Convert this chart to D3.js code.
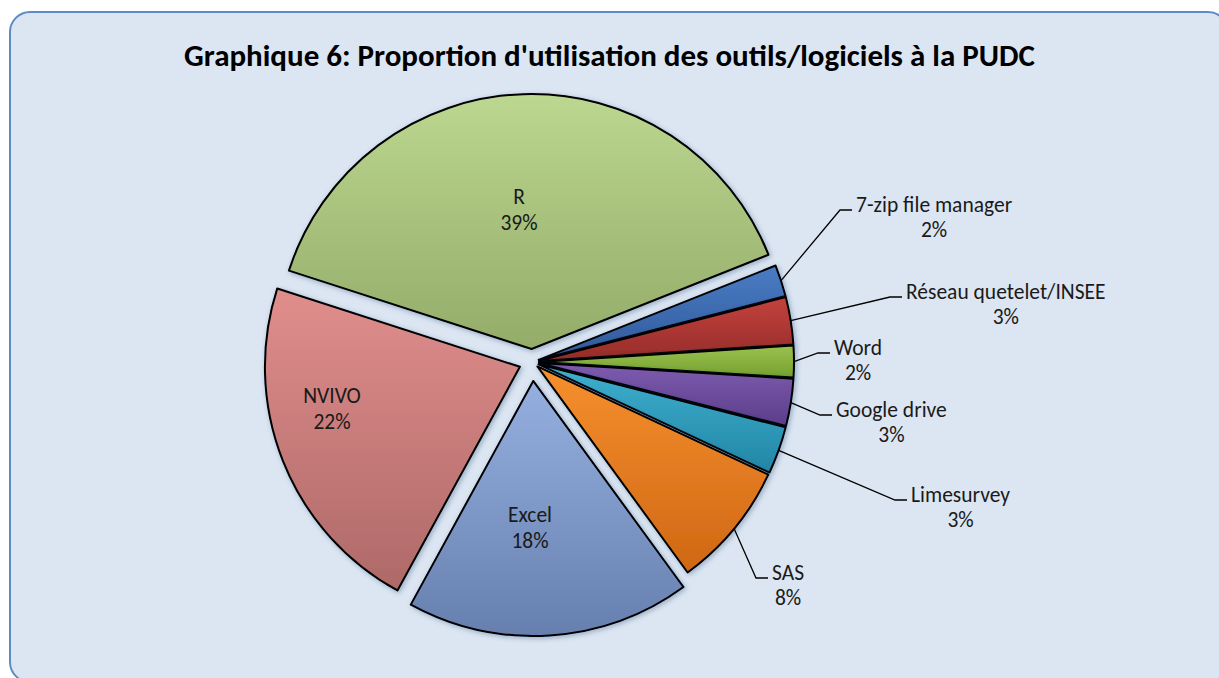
<!DOCTYPE html>
<html>
<head>
<meta charset="utf-8">
<script src="https://cdn.jsdelivr.net/npm/d3@7"></script>
<style>
  body { margin: 0; background: #fff; }
  text { font-family: Carlito, Calibri, Lato, sans-serif; fill: #1a1a1a; }
</style>
</head>
<body>
<div id="chart"></div>
<script>
// Chart data
var title = "Graphique 6: Proportion d'utilisation des outils/logiciels à la PUDC";
var categories = ["7-zip file manager", "Réseau quetelet/INSEE", "Word", "Google drive",
                  "Limesurvey", "SAS", "Excel", "NVIVO", "R"];
var values = [2, 3, 2, 3, 3, 8, 18, 22, 39];

// Layout
var width = 1219, height = 678;
var cx = 532, cy = 362, radius = 255;
var startAngle = 68.3 * Math.PI / 180;

// Excel style fills (top / bottom of the gradient)
var colorsTop    = ["#4a7cc4", "#c4423e", "#9bc24f", "#7e5cb0", "#3fb0cf", "#f6902e", "#95b0e0", "#e08e8c", "#bcd790"];
var colorsBottom = ["#30599a", "#952c29", "#75a02f", "#5b3d8a", "#2286a6", "#cf6714", "#667fae", "#ae6968", "#93ac69"];
var explode = [7, 7, 7, 7, 7, 7, 19, 13, 13];

// label placement, relative to the pie centre
// outside labels: elbow of the leader line; inside labels: centre of the text
var outside = [true, true, true, true, true, true, false, false, false];
var labelPos = [[308, -152], [358, -65], [286, -9], [288, 53], [363, 138], [224, 216],
                [-2, 166], [-200, 47], [-13, -152]];

var svg = d3.select("#chart")
    .append("svg")
    .attr("width", width)
    .attr("height", height);

var defs = svg.append("defs");

// soft shadow like the Excel chart style
var shadow = defs.append("filter")
    .attr("id", "shadow")
    .attr("x", "-20%").attr("y", "-20%")
    .attr("width", "140%").attr("height", "140%");
shadow.append("feDropShadow")
    .attr("dx", 1.5).attr("dy", 1.5)
    .attr("stdDeviation", 2.5)
    .attr("flood-color", "#1f3c66")
    .attr("flood-opacity", 0.35);

colorsTop.forEach(function(c, i) {
    var g = defs.append("linearGradient")
        .attr("id", "grad" + i)
        .attr("x1", 0).attr("y1", 0)
        .attr("x2", 0).attr("y2", 1);
    g.append("stop").attr("offset", "0%").attr("stop-color", c);
    g.append("stop").attr("offset", "100%").attr("stop-color", colorsBottom[i]);
});

// Chart area background
svg.append("rect")
    .attr("x", 10).attr("y", 12)
    .attr("width", 1218).attr("height", 670)
    .attr("rx", 20).attr("ry", 20)
    .attr("fill", "#dce6f2")
    .attr("stroke", "#5f8bc4")
    .attr("stroke-width", 2);

// Title
svg.append("text")
    .attr("x", 609.5).attr("y", 66)
    .attr("text-anchor", "middle")
    .style("font-size", "31px")
    .style("font-weight", "bold")
    .style("fill", "#000")
    .text(title);

var total = d3.sum(values);

var pie = d3.pie()
    .sort(null)
    .value(function(d) { return d; })
    .startAngle(startAngle)
    .endAngle(startAngle + 2 * Math.PI);

var arc = d3.arc()
    .innerRadius(0)
    .outerRadius(radius);

var arcs = pie(values);

function offset(d, i, r) {
    var a = (d.startAngle + d.endAngle) / 2;
    return [Math.sin(a) * r, -Math.cos(a) * r];
}

var pieG = svg.append("g")
    .attr("transform", "translate(" + cx + "," + cy + ")");

// Draw slices
pieG.selectAll("path.slice")
    .data(arcs)
    .enter()
    .append("path")
    .attr("class", "slice")
    .attr("transform", function(d, i) {
        var o = offset(d, i, explode[i]);
        return "translate(" + o[0] + "," + o[1] + ")";
    })
    .attr("d", arc)
    .attr("fill", function(d, i) { return "url(#grad" + i + ")"; })
    .attr("stroke", "#000")
    .attr("stroke-width", 2)
    .attr("stroke-linejoin", "round")
    .attr("filter", "url(#shadow)");

// Labels
var fontSize = 21.5, lineGap = 25.5;

arcs.forEach(function(d, i) {
    var pct = Math.round(d.value / total * 100) + "%";
    var p = labelPos[i];
    if (outside[i]) {
        var start = offset(d, i, radius + explode[i]);
        pieG.append("path")
            .attr("d", "M" + start[0] + "," + start[1] +
                       "L" + p[0] + "," + p[1] +
                       "L" + (p[0] + 12) + "," + p[1])
            .attr("fill", "none")
            .attr("stroke", "#000")
            .attr("stroke-width", 1.3);

        var t1 = pieG.append("text")
            .attr("text-anchor", "middle")
            .attr("dominant-baseline", "central")
            .style("font-size", fontSize + "px")
            .text(categories[i]);
        var w = t1.node().getComputedTextLength();
        var tx = p[0] + 16 + w / 2;
        t1.attr("x", tx).attr("y", p[1] - 5.5);
        pieG.append("text")
            .attr("x", tx).attr("y", p[1] - 5.5 + lineGap)
            .attr("text-anchor", "middle")
            .attr("dominant-baseline", "central")
            .style("font-size", fontSize + "px")
            .text(pct);
    } else {
        pieG.append("text")
            .attr("x", p[0]).attr("y", p[1] - lineGap / 2)
            .attr("text-anchor", "middle")
            .attr("dominant-baseline", "central")
            .style("font-size", fontSize + "px")
            .text(categories[i]);
        pieG.append("text")
            .attr("x", p[0]).attr("y", p[1] + lineGap / 2)
            .attr("text-anchor", "middle")
            .attr("dominant-baseline", "central")
            .style("font-size", fontSize + "px")
            .text(pct);
    }
});
</script>
</body>
</html>
